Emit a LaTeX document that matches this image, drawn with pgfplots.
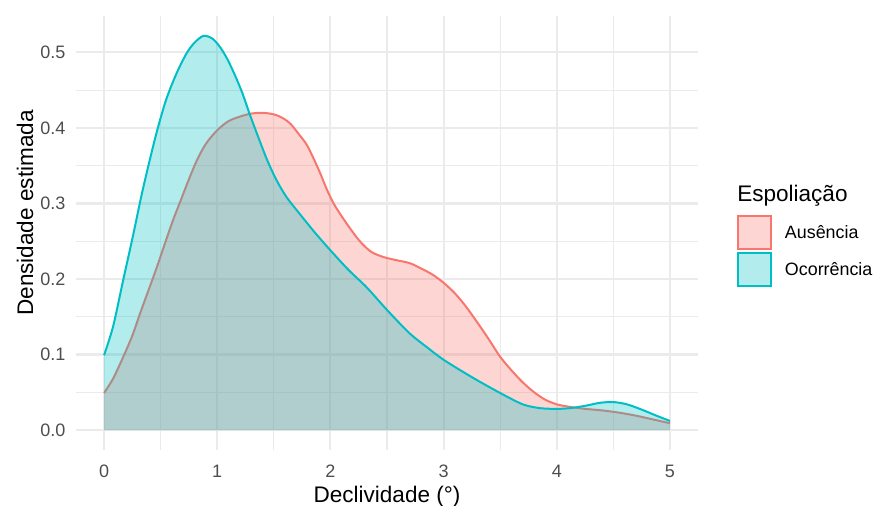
\documentclass[border=0pt]{standalone}
\usepackage{pgfplots}
\usepackage{pgfplotstable}
\pgfplotsset{compat=1.18}
\usepackage{fontspec}
\setmainfont{Liberation Sans}

\definecolor{ausencia}{HTML}{F8766D}
\definecolor{ocorrencia}{HTML}{00BFC4}
\definecolor{gridgray}{HTML}{EBEBEB}
\definecolor{tickgray}{HTML}{4D4D4D}

% density estimates
\pgfplotstableread{
x y
0.00 0.049
0.08 0.068
0.17 0.097
0.25 0.125
0.32 0.155
0.40 0.188
0.47 0.217
0.54 0.248
0.61 0.278
0.68 0.305
0.75 0.332
0.82 0.357
0.90 0.379
1.00 0.397
1.10 0.409
1.20 0.415
1.30 0.419
1.40 0.420
1.50 0.418
1.58 0.413
1.65 0.405
1.72 0.392
1.79 0.378
1.85 0.360
1.91 0.340
1.97 0.318
2.04 0.297
2.15 0.272
2.26 0.250
2.36 0.236
2.47 0.229
2.58 0.225
2.70 0.221
2.80 0.214
2.90 0.206
3.00 0.195
3.10 0.181
3.20 0.163
3.30 0.142
3.40 0.120
3.50 0.097
3.60 0.079
3.70 0.063
3.80 0.050
3.90 0.040
4.00 0.034
4.10 0.031
4.25 0.028
4.40 0.026
4.55 0.023
4.70 0.019
4.85 0.014
5.00 0.009
}\ausencia

\pgfplotstableread{
x y
0.00 0.099
0.08 0.137
0.17 0.199
0.26 0.260
0.33 0.310
0.40 0.355
0.47 0.397
0.55 0.438
0.64 0.472
0.73 0.499
0.80 0.513
0.88 0.522
0.96 0.518
1.03 0.506
1.09 0.491
1.15 0.472
1.22 0.447
1.29 0.417
1.37 0.385
1.44 0.358
1.52 0.332
1.61 0.309
1.73 0.286
1.86 0.262
2.00 0.238
2.16 0.212
2.32 0.189
2.50 0.159
2.70 0.128
2.85 0.110
3.00 0.093
3.25 0.070
3.50 0.049
3.70 0.034
3.85 0.029
4.00 0.028
4.12 0.029
4.25 0.032
4.38 0.036
4.50 0.037
4.62 0.034
4.75 0.027
4.88 0.019
5.00 0.012
}\ocorrencia

\begin{document}
\begin{tikzpicture}
\useasboundingbox (-56.8pt,-42.2pt) rectangle (600.2pt,337.3pt);
\begin{axis}[
  at={(0,0)}, anchor=south west,
  scale only axis,
  width=466.9pt, height=325.5pt,
  xmin=-0.25, xmax=5.25,
  ymin=-0.0261, ymax=0.5486,
  xtick={0,1,2,3,4,5},
  ytick={0,0.1,0.2,0.3,0.4,0.5},
  minor x tick num=1, minor y tick num=1,
  grid=both,
  major grid style={draw=gridgray, line width=1.6pt},
  minor grid style={draw=gridgray, line width=0.8pt},
  axis line style={draw=none},
  tick style={draw=none},
  major tick length=0pt, minor tick length=0pt,
  /pgf/number format/assume math mode=true,
  yticklabel style={/pgf/number format/.cd, fixed, fixed zerofill, precision=1},
  ticklabel style={font=\fontsize{13.5pt}{16pt}\selectfont, text=tickgray, inner sep=0pt},
  xticklabel shift=11.5pt,
  yticklabel shift=7.5pt,
  xlabel={Declividade (°)},
  ylabel={Densidade estimada},
  label style={font=\fontsize{16.9pt}{20pt}\selectfont, inner sep=0pt},
  xlabel style={at={(axis description cs:0.5,-0.1205)}, anchor=base},
  ylabel style={at={(axis description cs:-0.0686,0.5454)}, anchor=base},
  legend style={at={(axis description cs:1.0622,0.5408)}, anchor=north west,
    draw=none, fill=none, inner sep=0pt, outer sep=0pt,
    row sep=1.5pt, column sep=9.75pt,
    nodes={inner sep=0pt, anchor=west},
    font=\fontsize{13.4pt}{16pt}\selectfont},
  legend cell align=left,
  legend image code/.code={\draw[#1] (0pt,-12.4pt) rectangle (24.75pt,12.4pt);},
]
% Ausência: area, then its upper outline
\addplot[forget plot, draw=none, fill=ausencia, fill opacity=0.3, smooth] table {\ausencia} \closedcycle;
\addplot[forget plot, draw=ausencia, line width=1.5pt, smooth] table {\ausencia};
% Ocorrência drawn on top
\addplot[forget plot, draw=none, fill=ocorrencia, fill opacity=0.3, smooth] table {\ocorrencia} \closedcycle;
\addplot[forget plot, draw=ocorrencia, line width=1.5pt, smooth] table {\ocorrencia};

\addlegendimage{draw=ausencia, line width=1.5pt, fill=ausencia, fill opacity=0.3}
\addlegendentry{Ausência}
\addlegendimage{draw=ocorrencia, line width=1.5pt, fill=ocorrencia, fill opacity=0.3}
\addlegendentry{Ocorrência}
\end{axis}
\node[anchor=base west, inner sep=0pt, font=\fontsize{16.9pt}{20pt}\selectfont] at (496.0pt,185.8pt) {Espoliação};
\end{tikzpicture}
\end{document}
